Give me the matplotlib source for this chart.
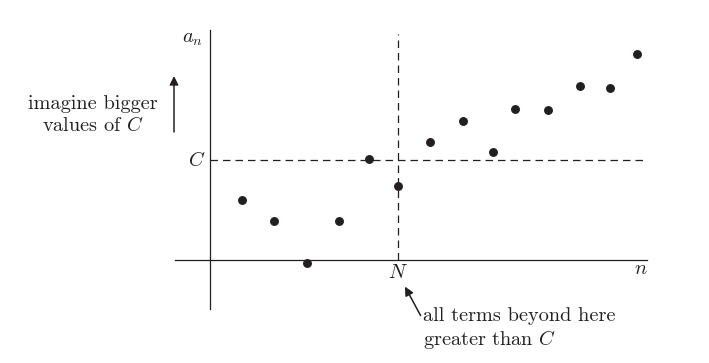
import matplotlib
matplotlib.use('Agg')
import matplotlib.pyplot as plt

plt.rcParams['font.family'] = 'serif'
plt.rcParams['font.serif'] = ['cmr10', 'DejaVu Serif']
plt.rcParams['mathtext.fontset'] = 'cm'
plt.rcParams['axes.formatter.use_mathtext'] = True

ink = '#231f20'

# sequence terms a_n (origin at the axes crossing)
n_pos = [1.06, 2.12, 3.24, 4.29, 5.31, 6.28, 7.34, 8.43, 9.43, 10.18, 11.27, 12.33, 13.32, 14.24]
a_vals = [3.0, 1.95, -0.17, 1.95, 5.05, 3.7, 5.9, 6.95, 5.4, 7.55, 7.5, 8.7, 8.6, 10.3]
C_level = 5.0
N_pos = 6.28

fig = plt.figure(figsize=(7.09, 3.63), dpi=100)
ax = fig.add_axes([0, 0, 1, 1])
ax.set_xlim(-7.0, 16.633)
ax.set_ylim(-5.15, 13.0)
ax.axis('off')

# axes
ax.plot([0, 0], [-2.45, 11.5], color=ink, lw=0.9)
ax.plot([-1.167, 14.57], [0, 0], color=ink, lw=0.9)

# dashed guides
ax.plot([N_pos, N_pos], [0, 11.3], color=ink, lw=0.9, dashes=(6, 4))
ax.plot([0, 14.57], [C_level, C_level], color=ink, lw=0.9, dashes=(6, 4))

ax.plot(n_pos, a_vals, 'o', color=ink, markersize=5.4, zorder=3)

# labels
fs = 14.6
ax.text(-0.6, 11.05, '$a_n$', ha='center', va='center', fontsize=fs, color=ink)
ax.text(-0.45, C_level, '$C$', ha='center', va='center', fontsize=fs, color=ink)
ax.text(N_pos, -0.65, '$N$', ha='center', va='center', fontsize=fs, color=ink)
ax.text(14.37, -0.45, '$n$', ha='center', va='center', fontsize=fs, color=ink)

ax.text(-3.9, 7.25, 'imagine bigger\nvalues of $C$', ha='center', va='center',
        fontsize=fs, color=ink, linespacing=1.2)
ax.annotate('', xy=(-1.2, 9.2), xytext=(-1.2, 6.4),
            arrowprops=dict(arrowstyle='-|>', color=ink, lw=1.1,
                            mutation_scale=13, shrinkA=0, shrinkB=0))

ax.text(7.1, -3.45, 'all terms beyond here\ngreater than $C$', ha='left', va='center',
        fontsize=fs, color=ink, linespacing=1.2)
ax.annotate('', xy=(6.5, -1.33), xytext=(7.02, -2.78),
            arrowprops=dict(arrowstyle='-|>', color=ink, lw=1.1,
                            mutation_scale=13, shrinkA=0, shrinkB=0))

fig.savefig('out.png', dpi=100)
